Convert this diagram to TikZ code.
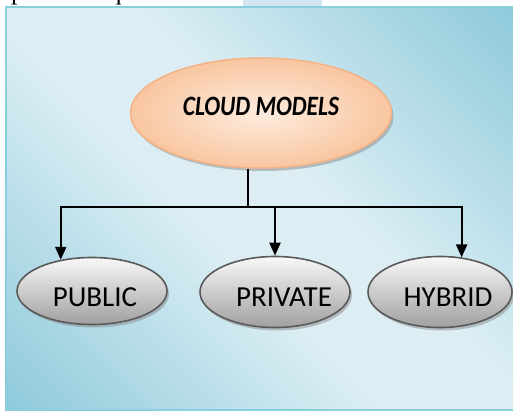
\documentclass[tikz,border=0pt]{standalone}
\usepackage{fontspec}
\setmainfont{Carlito}
\newfontfamily\serifpart{Liberation Serif}
\usetikzlibrary{shapes.geometric,arrows.meta,shadows}
\definecolor{bgdark}{HTML}{8CC9DA}
\definecolor{bglight}{HTML}{DCEEF4}
\definecolor{frameblue}{HTML}{8ACFDE}
\definecolor{topblue}{HTML}{D2E6EF}
\definecolor{peachin}{HTML}{FDECDF}
\definecolor{peachout}{HTML}{F9C6A0}
\definecolor{peachline}{HTML}{F4B287}
\definecolor{grayline}{HTML}{5A5A5A}
\definecolor{graytop}{HTML}{F8F8F8}
\definecolor{graybot}{HTML}{A0A0A0}
\pgfdeclareverticalshading{bgdiag}{100bp}{color(0bp)=(bgdark); color(14bp)=(bgdark); color(44bp)=(bglight); color(56bp)=(bglight); color(86bp)=(bgdark); color(100bp)=(bgdark)}
\begin{document}
\begin{tikzpicture}[x=1pt,y=-1pt,
  root/.style={ellipse, minimum width=261pt, minimum height=110pt, inner sep=0pt,
    draw=peachline, line width=1.5pt, inner color=peachin, outer color=peachout,
    drop shadow={shadow xshift=2pt, shadow yshift=-3pt, fill=gray, opacity=0.45}},
  leaf/.style={ellipse, inner sep=0pt, draw=grayline, line width=1.6pt,
    top color=graytop, bottom color=graybot,
    drop shadow={shadow xshift=2pt, shadow yshift=-3pt, fill=gray, opacity=0.45}},
  lbl/.style={font=\fontsize{29}{29}\selectfont, inner sep=0pt},
  conn/.style={line width=2.2pt, black},
  arr/.style={conn, -{Triangle[length=13pt,width=11pt]}}
]
\useasboundingbox (0,0) rectangle (513,411);
\fill[topblue] (243,0) rectangle (322,7);
\begin{scope}
  \clip (0,0) rectangle (513,411);
  \node[anchor=base west, inner sep=0pt, font=\serifpart\fontsize{26}{26}\selectfont] (toptext) at (11,0) {pecific requirements.};
\end{scope}
\shade[shading=bgdiag, shading angle=-45] (6,7) rectangle (514,410);
\draw[frameblue, line width=2pt] (6,7) rectangle (514,410);

\node[root] (cloud) at (261,113) {};
\node[inner sep=0pt, font=\fontsize{28}{28}\selectfont\bfseries\itshape] (cloudtxt) at (261,106) {\scalebox{0.84}[1]{CLOUD MODELS}};

\node[leaf, minimum width=150pt, minimum height=67pt] (pub) at (92,291) {};
\node[leaf, minimum width=150pt, minimum height=71pt] (pri) at (275,292) {};
\node[leaf, minimum width=144pt, minimum height=71pt] (hyb) at (440,292) {};
\node[lbl] (publbl) at (95,297) {PUBLIC};
\node[lbl] (prilbl) at (284,297) {PRIVATE};
\node[lbl] (hyblbl) at (448,297) {HYBRID};

\coordinate (j) at (248,207);
\draw[conn] (cloud.south -| j) -- (j);
\draw[arr] (j) -| (pub.135);
\draw[arr] (j) -| (pri.north);
\draw[arr] (j) -| (hyb.58);
\end{tikzpicture}
\end{document}
